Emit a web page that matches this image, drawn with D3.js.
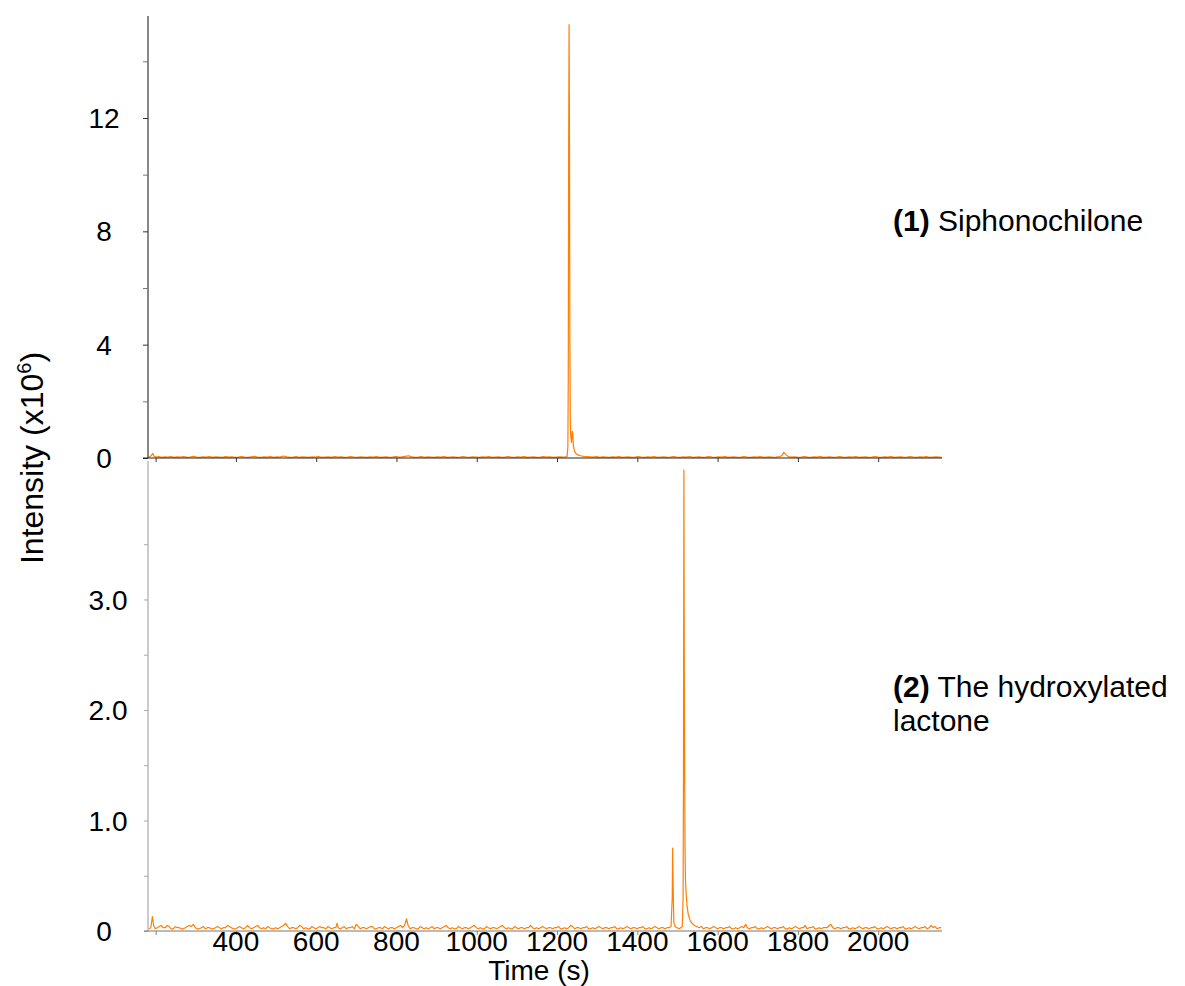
<!DOCTYPE html>
<html>
<head>
<meta charset="utf-8">
<script src="https://cdn.jsdelivr.net/npm/d3@7"></script>
<style>
  html, body { margin: 0; padding: 0; background: #fff; }
  svg { display: block; font-family: "Liberation Sans", Arial, sans-serif; }
</style>
</head>
<body>
<svg id="chart" width="1185" height="986"></svg>
<script>
// Extracted ion chromatograms, intensity in units of 10^6 counts
const siphonochilone = [
  [183,0.04],[188,0.07],[193,0.16],[196,0.06],[201,0.03],[208,0.05],[215,0.02],[222,0.04],[230,0.03],[238,0.05],
  [246,0.02],[254,0.04],[262,0.03],[270,0.05],[278,0.02],[286,0.03],[294,0.06],[302,0.03],[310,0.02],[318,0.04],
  [326,0.03],[334,0.05],[342,0.02],[350,0.04],[358,0.03],[366,0.02],[374,0.05],[382,0.03],[390,0.04],[398,0.02],
  [406,0.03],[414,0.05],[422,0.03],[430,0.02],[438,0.04],[446,0.06],[454,0.03],[462,0.02],[470,0.04],[478,0.03],
  [486,0.05],[494,0.02],[502,0.04],[510,0.03],[518,0.07],[526,0.04],[534,0.02],[542,0.03],[550,0.05],[558,0.02],
  [566,0.04],[574,0.03],[582,0.02],[590,0.04],[598,0.03],[606,0.05],[614,0.02],[622,0.03],[630,0.04],[638,0.02],
  [646,0.05],[654,0.03],[662,0.04],[670,0.02],[678,0.03],[686,0.05],[694,0.03],[702,0.02],[710,0.04],[718,0.03],
  [726,0.02],[734,0.04],[742,0.03],[750,0.05],[758,0.02],[766,0.03],[774,0.04],[782,0.02],[790,0.03],[798,0.05],
  [806,0.03],[814,0.04],[822,0.06],[830,0.08],[838,0.04],[846,0.02],[854,0.03],[862,0.05],[870,0.02],[878,0.04],
  [886,0.03],[894,0.02],[902,0.04],[910,0.03],[918,0.05],[926,0.02],[934,0.03],[942,0.04],[950,0.02],[958,0.03],
  [966,0.05],[974,0.03],[982,0.02],[990,0.04],[998,0.03],[1006,0.02],[1014,0.04],[1022,0.03],[1030,0.05],[1038,0.02],
  [1046,0.03],[1054,0.04],[1062,0.02],[1070,0.03],[1078,0.05],[1086,0.03],[1094,0.02],[1102,0.04],[1110,0.03],[1118,0.05],
  [1126,0.02],[1134,0.03],[1142,0.04],[1150,0.02],[1158,0.03],[1166,0.05],[1174,0.03],[1182,0.04],[1190,0.02],[1198,0.03],
  [1206,0.04],[1214,0.03],[1220,0.04],[1225,0.05],[1227,0.4],[1228,2.9],[1229,11.2],[1230,15.3],[1231,11.2],[1232,4.1],
  [1233,1.35],[1234,0.8],[1236,0.55],[1238,0.95],[1239,0.85],[1241,0.4],[1244,0.22],[1248,0.15],[1253,0.1],[1259,0.08],
  [1266,0.06],[1274,0.05],[1282,0.04],[1290,0.03],[1298,0.05],[1306,0.02],[1314,0.04],[1322,0.03],[1330,0.02],[1338,0.04],
  [1346,0.03],[1354,0.05],[1362,0.02],[1370,0.03],[1378,0.04],[1386,0.02],[1394,0.03],[1402,0.05],[1410,0.03],[1418,0.02],
  [1426,0.04],[1434,0.03],[1442,0.05],[1450,0.02],[1458,0.03],[1466,0.04],[1474,0.02],[1482,0.03],[1490,0.05],[1498,0.03],
  [1506,0.02],[1514,0.04],[1522,0.03],[1530,0.05],[1538,0.02],[1546,0.03],[1554,0.04],[1562,0.02],[1570,0.03],[1578,0.05],
  [1586,0.03],[1594,0.02],[1602,0.04],[1610,0.03],[1618,0.05],[1626,0.02],[1634,0.03],[1642,0.04],[1650,0.02],[1658,0.03],
  [1666,0.05],[1674,0.03],[1682,0.02],[1690,0.04],[1698,0.03],[1706,0.05],[1714,0.02],[1722,0.03],[1730,0.04],[1738,0.02],
  [1746,0.03],[1754,0.05],[1760,0.08],[1765,0.2],[1770,0.12],[1776,0.05],[1784,0.03],[1792,0.04],[1800,0.02],[1808,0.03],
  [1816,0.05],[1824,0.03],[1832,0.02],[1840,0.04],[1848,0.03],[1856,0.05],[1864,0.02],[1872,0.03],[1880,0.04],[1888,0.02],
  [1896,0.03],[1904,0.05],[1912,0.03],[1920,0.02],[1928,0.04],[1936,0.03],[1944,0.05],[1952,0.02],[1960,0.03],[1968,0.04],
  [1976,0.02],[1984,0.03],[1992,0.05],[2000,0.03],[2008,0.02],[2016,0.04],[2024,0.03],[2032,0.05],[2040,0.02],[2048,0.03],
  [2056,0.04],[2064,0.02],[2072,0.03],[2080,0.05],[2088,0.03],[2096,0.02],[2104,0.04],[2112,0.03],[2120,0.05],[2128,0.02],
  [2136,0.03],[2144,0.04],[2152,0.03],[2158,0.02]
];

const hydroxylatedLactone = [
  [183,0.02],[188,0.03],[192,0.13],[195,0.05],[199,0.02],[204,0.03],[209,0.04],[214,0.05],[219,0.03],[224,0.03],
  [229,0.05],[234,0.04],[239,0.02],[244,0.02],[249,0.04],[254,0.03],[259,0.03],[264,0.02],[269,0.02],[274,0.03],
  [279,0.04],[284,0.05],[289,0.04],[294,0.06],[299,0.03],[304,0.02],[309,0.02],[314,0.03],[319,0.04],[324,0.02],
  [329,0.03],[334,0.03],[339,0.02],[344,0.02],[349,0.03],[354,0.04],[359,0.03],[364,0.02],[369,0.03],[374,0.03],
  [379,0.05],[384,0.04],[389,0.03],[394,0.02],[399,0.02],[404,0.03],[409,0.04],[414,0.03],[419,0.02],[424,0.03],
  [429,0.05],[434,0.03],[439,0.02],[444,0.03],[449,0.04],[454,0.05],[459,0.03],[464,0.02],[469,0.03],[474,0.02],
  [479,0.04],[484,0.03],[489,0.02],[494,0.02],[499,0.03],[504,0.02],[509,0.03],[514,0.04],[519,0.05],[524,0.07],
  [529,0.04],[534,0.02],[539,0.03],[544,0.03],[549,0.02],[554,0.03],[559,0.05],[564,0.04],[569,0.02],[574,0.03],
  [579,0.02],[584,0.02],[589,0.04],[594,0.03],[599,0.02],[604,0.03],[609,0.04],[614,0.03],[619,0.03],[624,0.02],
  [629,0.04],[634,0.03],[639,0.02],[644,0.03],[649,0.03],[652,0.07],[655,0.03],[660,0.02],[665,0.03],[670,0.04],
  [675,0.02],[680,0.03],[685,0.03],[690,0.04],[695,0.02],[700,0.06],[705,0.04],[710,0.02],[715,0.03],[720,0.03],
  [725,0.02],[730,0.03],[735,0.04],[740,0.04],[745,0.02],[750,0.02],[755,0.03],[760,0.03],[765,0.02],[770,0.04],
  [775,0.03],[780,0.02],[785,0.03],[790,0.03],[795,0.02],[800,0.03],[805,0.04],[810,0.05],[815,0.03],[820,0.05],
  [825,0.11],[829,0.05],[834,0.02],[839,0.03],[844,0.03],[849,0.02],[854,0.02],[859,0.04],[864,0.03],[869,0.02],
  [874,0.03],[879,0.02],[884,0.03],[889,0.04],[894,0.02],[899,0.03],[904,0.03],[909,0.02],[914,0.03],[919,0.04],
  [924,0.05],[929,0.03],[934,0.02],[939,0.03],[944,0.02],[949,0.02],[954,0.04],[959,0.03],[964,0.02],[969,0.03],
  [974,0.03],[979,0.02],[984,0.03],[989,0.04],[994,0.05],[999,0.03],[1004,0.02],[1009,0.03],[1014,0.02],[1019,0.02],
  [1024,0.04],[1029,0.03],[1034,0.02],[1039,0.03],[1044,0.03],[1049,0.02],[1054,0.03],[1059,0.04],[1064,0.05],[1069,0.03],
  [1074,0.02],[1079,0.03],[1084,0.02],[1089,0.02],[1094,0.04],[1099,0.03],[1104,0.02],[1109,0.03],[1114,0.03],[1119,0.02],
  [1124,0.03],[1129,0.03],[1134,0.05],[1139,0.03],[1144,0.02],[1149,0.03],[1154,0.02],[1159,0.03],[1164,0.04],[1169,0.03],
  [1174,0.02],[1179,0.03],[1184,0.03],[1189,0.02],[1194,0.03],[1199,0.03],[1204,0.04],[1209,0.02],[1214,0.02],[1219,0.03],
  [1224,0.02],[1229,0.03],[1234,0.05],[1239,0.04],[1244,0.02],[1249,0.03],[1254,0.03],[1259,0.02],[1264,0.03],[1269,0.03],
  [1274,0.04],[1279,0.02],[1284,0.02],[1289,0.03],[1294,0.02],[1299,0.03],[1304,0.04],[1309,0.03],[1314,0.02],[1319,0.03],
  [1324,0.03],[1329,0.02],[1334,0.03],[1339,0.03],[1344,0.04],[1349,0.02],[1354,0.02],[1359,0.03],[1364,0.02],[1369,0.03],
  [1374,0.04],[1379,0.03],[1384,0.02],[1389,0.03],[1394,0.03],[1399,0.02],[1404,0.03],[1409,0.03],[1414,0.04],[1419,0.02],
  [1424,0.02],[1429,0.03],[1434,0.02],[1439,0.03],[1444,0.04],[1449,0.03],[1454,0.02],[1459,0.03],[1464,0.03],[1469,0.02],
  [1474,0.03],[1479,0.03],[1484,0.04],[1487,0.3],[1488,0.75],[1489,0.45],[1490,0.25],[1491,0.08],[1494,0.04],[1499,0.03],
  [1504,0.02],[1508,0.03],[1512,0.04],[1514,0.3],[1515,1.4],[1516,4.17],[1517,2.45],[1518,1.4],[1519,0.7],[1520,0.45],
  [1522,0.32],[1524,0.22],[1527,0.15],[1531,0.1],[1536,0.07],[1542,0.05],[1548,0.04],[1554,0.03],[1560,0.04],[1565,0.02],
  [1570,0.03],[1575,0.03],[1580,0.02],[1585,0.03],[1590,0.04],[1595,0.03],[1600,0.02],[1605,0.03],[1610,0.03],[1615,0.02],
  [1620,0.03],[1625,0.03],[1630,0.04],[1635,0.02],[1640,0.02],[1645,0.03],[1650,0.02],[1655,0.03],[1660,0.04],[1665,0.03],
  [1670,0.06],[1674,0.03],[1679,0.02],[1684,0.03],[1689,0.03],[1694,0.04],[1699,0.02],[1704,0.02],[1709,0.03],[1714,0.02],
  [1719,0.03],[1724,0.04],[1729,0.03],[1734,0.02],[1739,0.03],[1744,0.03],[1749,0.02],[1754,0.03],[1759,0.03],[1764,0.04],
  [1769,0.02],[1774,0.02],[1779,0.03],[1784,0.02],[1789,0.03],[1794,0.04],[1799,0.03],[1804,0.02],[1809,0.03],[1814,0.03],
  [1818,0.05],[1823,0.02],[1828,0.03],[1833,0.03],[1838,0.04],[1843,0.02],[1848,0.02],[1853,0.03],[1858,0.02],[1863,0.03],
  [1868,0.03],[1873,0.03],[1878,0.05],[1882,0.06],[1887,0.03],[1892,0.02],[1897,0.03],[1902,0.03],[1907,0.02],[1912,0.03],
  [1917,0.03],[1922,0.04],[1927,0.02],[1932,0.02],[1937,0.03],[1942,0.02],[1947,0.03],[1952,0.04],[1957,0.03],[1962,0.02],
  [1967,0.03],[1972,0.03],[1977,0.02],[1982,0.03],[1987,0.03],[1992,0.04],[1997,0.02],[2002,0.02],[2007,0.03],[2012,0.02],
  [2017,0.03],[2022,0.04],[2027,0.03],[2032,0.02],[2037,0.03],[2042,0.03],[2047,0.02],[2052,0.03],[2057,0.03],[2062,0.04],
  [2067,0.02],[2072,0.02],[2077,0.03],[2082,0.02],[2087,0.03],[2092,0.04],[2097,0.03],[2102,0.02],[2107,0.03],[2112,0.03],
  [2117,0.04],[2122,0.02],[2127,0.03],[2132,0.05],[2137,0.03],[2142,0.04],[2147,0.02],[2152,0.03],[2157,0.03]
];

// Axis ticks
const timeTicks = [200, 400, 600, 800, 1000, 1200, 1400, 1600, 1800, 2000];
const timeTickLabels = ["", "400", "600", "800", "1000", "1200", "1400", "1600", "1800", "2000"];
const topMajorTicks = [0, 4, 8, 12];
const topMinorTicks = [2, 6, 10, 14];
const bottomMajorTicks = [0, 1, 2, 3];
const bottomMajorLabels = ["0", "1.0", "2.0", "3.0"];
const bottomMinorTicks = [0.5, 1.5, 2.5, 3.5];

const traceLabels = [
  { bold: "(1)", lines: [" Siphonochilone"] },
  { bold: "(2)", lines: [" The hydroxylated", "lactone"] }
];

const svg = d3.select("#chart");
const orange = "#ff7f00";
const tickFont = 28;
const labelFont = 30;
const labelLineGap = 34;
const titleFont = 28;

// Layout
const left = 148, right = 942;
const topPanel = { top: 16, bottom: 458 };
const bottomPanel = { top: 458, bottom: 931 };

const x = d3.scaleLinear().domain([181, 2159]).range([left, right]);
const yTop = d3.scaleLinear().domain([0, 15.6]).range([topPanel.bottom, topPanel.top]);
const yBottom = d3.scaleLinear().domain([0, 4.28]).range([bottomPanel.bottom, bottomPanel.top]);

const line = yScale => d3.line()
  .x(d => x(d[0]))
  .y(d => yScale(d[1]));

// Traces
svg.append("path")
  .datum(siphonochilone)
  .attr("fill", "none")
  .attr("stroke", orange)
  .attr("stroke-width", 1.2)
  .attr("stroke-linejoin", "round")
  .attr("d", line(yTop));

svg.append("path")
  .datum(hydroxylatedLactone)
  .attr("fill", "none")
  .attr("stroke", orange)
  .attr("stroke-width", 1.2)
  .attr("stroke-linejoin", "round")
  .attr("d", line(yBottom));

// Top panel axes
const topY = svg.append("g").attr("transform", `translate(${left},0)`)
  .call(d3.axisLeft(yTop).tickValues(topMajorTicks.concat(topMinorTicks)).tickSize(5).tickFormat(""));
topY.select(".domain").attr("stroke", "#111").attr("d", `M0,${topPanel.bottom}V${topPanel.top}`);
topY.selectAll(".tick line").attr("stroke", d => topMinorTicks.includes(d) ? "#777" : "#333");

svg.append("g").selectAll("text")
  .data(topMajorTicks)
  .join("text")
  .attr("x", 104)
  .attr("y", d => yTop(d))
  .attr("dy", "0.36em")
  .attr("text-anchor", "middle")
  .attr("font-size", tickFont)
  .text(d => d);

const topX = svg.append("g").attr("transform", `translate(0,${topPanel.bottom})`)
  .call(d3.axisBottom(x).tickValues(timeTicks).tickSize(4).tickFormat(""));
topX.select(".domain").attr("stroke", "#222").attr("d", `M${left - 5},0H${right}`);
topX.selectAll(".tick line").attr("stroke", "#333");

// Bottom panel axes
const botY = svg.append("g").attr("transform", `translate(${left},0)`)
  .call(d3.axisLeft(yBottom).tickValues(bottomMajorTicks.concat(bottomMinorTicks)).tickSize(4).tickFormat(""));
botY.select(".domain").attr("stroke", "#bbb").attr("stroke-width", 1.5)
  .attr("d", `M0,${bottomPanel.bottom}V${bottomPanel.top + 3}`);
botY.selectAll(".tick line").attr("stroke", "#aaa");

svg.append("g").selectAll("text")
  .data(bottomMajorTicks)
  .join("text")
  .attr("x", d => d === 0 ? 104 : 108)
  .attr("y", d => yBottom(d))
  .attr("dy", "0.36em")
  .attr("text-anchor", "middle")
  .attr("font-size", tickFont)
  .text((d, i) => bottomMajorLabels[i]);

const botX = svg.append("g").attr("transform", `translate(0,${bottomPanel.bottom})`)
  .call(d3.axisBottom(x).tickValues(timeTicks).tickSize(4).tickFormat(""));
botX.select(".domain").attr("stroke", "#777").attr("d", `M${left - 4},0H${right}`);
botX.selectAll(".tick line").attr("stroke", "#888");

svg.append("g").selectAll("text")
  .data(timeTicks.filter((d, i) => timeTickLabels[i] !== ""))
  .join("text")
  .attr("x", d => x(d))
  .attr("y", bottomPanel.bottom + 20)
  .attr("text-anchor", "middle")
  .attr("font-size", tickFont)
  .text(d => timeTickLabels[timeTicks.indexOf(d)]);

// Axis titles
svg.append("text")
  .attr("x", x(1200) - 18)
  .attr("y", 980)
  .attr("text-anchor", "middle")
  .attr("font-size", titleFont)
  .text("Time (s)");

const yTitle = svg.append("text")
  .attr("transform", `translate(43,${topPanel.bottom}) rotate(-90)`)
  .attr("text-anchor", "middle")
  .attr("font-size", 32);
yTitle.append("tspan").text("Intensity (x10");
yTitle.append("tspan").attr("font-size", 20).attr("dy", -12).text("6");
yTitle.append("tspan").attr("dy", 12).text(")");

// Trace labels
const labelPos = [{ x: 893, y: 231 }, { x: 893, y: 697 }];
traceLabels.forEach((t, i) => {
  const txt = svg.append("text")
    .attr("x", labelPos[i].x)
    .attr("y", labelPos[i].y)
    .attr("font-size", labelFont);
  txt.append("tspan").attr("font-weight", "bold").text(t.bold);
  t.lines.forEach((s, j) => {
    const ts = txt.append("tspan").text(s);
    if (j > 0) ts.attr("x", labelPos[i].x).attr("dy", labelLineGap);
  });
});
</script>
</body>
</html>
